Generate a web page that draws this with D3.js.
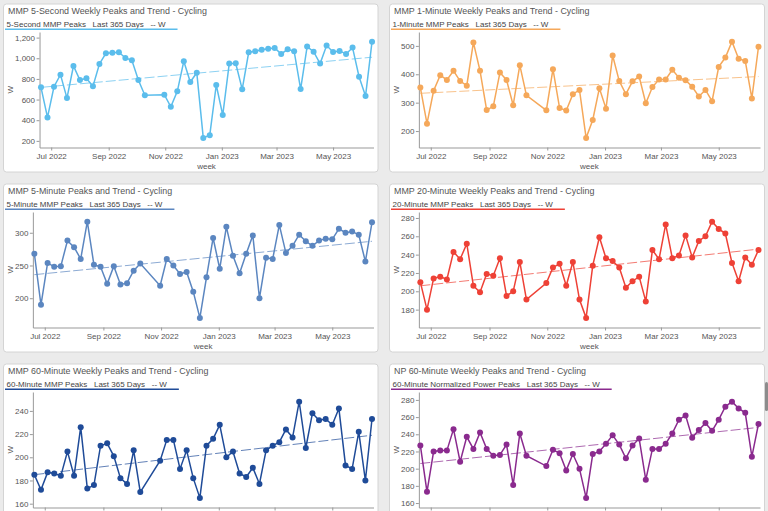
<!DOCTYPE html>
<html><head><meta charset="utf-8">
<script src="https://cdn.jsdelivr.net/npm/d3@7"></script>
<style>
html,body{margin:0;padding:0;background:#ebebeb;overflow:hidden;}
svg{display:block;font-family:"Liberation Sans",Arial,Helvetica,sans-serif;}
</style></head><body>
<svg id="chart" width="768" height="511"></svg>
<script>
// ---- data ----
const weeks = ["2022-06-20","2022-06-27","2022-07-04","2022-07-11","2022-07-18","2022-07-25","2022-08-01","2022-08-08","2022-08-15","2022-08-22","2022-08-29","2022-09-05","2022-09-12","2022-09-19","2022-09-26","2022-10-03","2022-10-10",
"2022-10-31","2022-11-07","2022-11-14","2022-11-21","2022-11-28","2022-12-05","2022-12-12","2022-12-19","2022-12-26","2023-01-02","2023-01-09","2023-01-16","2023-01-23","2023-01-30","2023-02-06","2023-02-13","2023-02-20","2023-02-27","2023-03-06","2023-03-13","2023-03-20","2023-03-27","2023-04-03","2023-04-10","2023-04-17","2023-04-24","2023-05-01","2023-05-08","2023-05-15","2023-05-22","2023-05-29","2023-06-05","2023-06-12"];

const titles = ["MMP 5-Second Weekly Peaks and Trend - Cycling","MMP 1-Minute Weekly Peaks and Trend - Cycling","MMP 5-Minute Peaks and Trend - Cycling","MMP 20-Minute Weekly Peaks and Trend - Cycling","MMP 60-Minute Weekly Peaks and Trend - Cycling","NP 60-Minute Weekly Peaks and Trend - Cycling"];
const seriesNames = ["5-Second MMP Peaks","1-Minute MMP Peaks","5-Minute MMP Peaks","20-Minute MMP Peaks","60-Minute MMP Peaks","60-Minute Normalized Power Peaks"];
const periodLabel = "Last 365 Days";
const unitLabel = "-- W";
const yLabel = "W";
const xLabel = "week";
const colors = ["#5bbdec","#f5a85a","#5b86c0","#ee4136","#1f4b98","#8a2a8e"];

const mmp5s = [718,427,724,841,614,925,789,806,728,945,1048,1054,1058,1003,980,789,641,
647,530,680,971,770,860,229,255,741,450,948,951,699,1058,1068,1083,1093,1100,1042,1087,1068,702,1113,1064,948,1123,1061,1071,1042,1103,821,634,1161];
const mmp1m = [353,226,342,397,380,412,376,360,512,412,274,287,406,380,291,432,326,
273,418,281,272,330,345,176,239,351,279,466,376,330,375,392,298,355,382,382,416,388,379,356,322,345,305,426,459,515,455,447,315,497];
const mmp5m = [268,190,254,248,249,288,278,260,317,251,248,222,249,221,223,242,253,
219,260,250,237,240,210,170,232,292,245,309,265,238,268,296,200,262,260,312,269,280,297,287,280,288,291,290,306,300,302,297,256,316];
const mmp20m = [210,180,214,216,213,243,235,252,206,199,219,217,236,195,200,232,191,
209,226,230,206,232,191,171,228,259,236,233,226,204,211,216,189,245,235,273,236,239,261,237,255,260,276,268,263,231,211,237,229,245];
const mmp60m = [185,172,187,186,184,205,184,226,173,176,210,212,201,182,177,206,170,
197,215,215,190,206,182,165,210,216,228,200,205,186,183,191,177,206,210,213,224,217,248,208,238,232,233,228,242,193,190,222,180,233];
const np60m = [227,173,220,221,221,246,208,237,223,242,223,215,216,228,181,241,215,
203,222,218,198,217,200,166,217,220,229,239,228,212,227,235,187,223,223,229,241,257,262,236,245,253,244,257,272,278,270,265,214,252];

const trendStart = [718,333,236,206,185,206];
const trendEnd = [1010,392,287,246,219,248];

const series = [mmp5s, mmp1m, mmp5m, mmp20m, mmp60m, np60m];

// ---- layout ----
const colX = [3.5, 389.5], colW = [374.5, 375];
const rowY = [4, 184, 364], panelH = 168;
const H = 511;

const svg = d3.select("#chart");
const parse = d3.timeParse("%Y-%m-%d");
const dates = weeks.map(parse);
const fmtTick = d3.timeFormat("%b %Y");

// scrollbar thumb
svg.append("rect").attr("x",765).attr("y",382).attr("width",3).attr("height",29).attr("rx",1.5).attr("fill","#8c8c8c");

function textWidth(str, size){
  const t = svg.append("text").style("font-size", size+"px").style("white-space","pre").text(str);
  const w = t.node().getComputedTextLength(); t.remove(); return w;
}

series.forEach((vals, i) => {
  const px = colX[i % 2], pw = colW[i % 2], py = rowY[Math.floor(i / 2)];
  const color = colors[i];
  const g = svg.append("g");
  g.append("rect").attr("x",px).attr("y",py).attr("width",pw).attr("height",panelH)
    .attr("rx",3).attr("fill","#fff").attr("stroke","#d4d4d4").attr("stroke-width",1);

  // headers
  g.append("text").attr("x",px+4.5).attr("y",py+10).style("font-size","8.9px").attr("fill","#555").text(titles[i]);
  const sub = seriesNames[i] + "   " + periodLabel + "   " + unitLabel;
  g.append("text").attr("x",px+3).attr("y",py+22.5).style("font-size","8px").style("white-space","pre").attr("fill","#444").text(sub);
  const sw = textWidth(sub, 8);
  g.append("line").attr("x1",px+1.5).attr("x2",px+3+sw+12).attr("y1",py+25.3).attr("y2",py+25.3)
    .attr("stroke",color).attr("stroke-width",1.4);

  // scales
  const mn = d3.min(vals), mx = d3.max(vals), r = mx - mn;
  const y0 = py + 28, y1 = y0 + 115.5;
  const y = d3.scaleLinear().domain([mn - 0.1*r, mx + 0.1*r]).range([y1, y0]);
  const ticks = y.ticks(5);
  const maxLab = d3.max(ticks, t => textWidth(d3.format(",")(t), 8));
  const x0 = px + 16 + maxLab, x1 = px + pw - 4.5;
  const pad = 38*3600*1000;
  const x = d3.scaleTime().domain([new Date(dates[0].getTime()-pad), new Date(dates[dates.length-1].getTime()+pad)]).range([x0, x1]);

  // axes (labels that fall below the window are not drawn, as in the reference)
  const showXLabels = y1 + 14 < H;
  const gx = g.append("g").attr("transform",`translate(0,${y1})`)
    .call(d3.axisBottom(x).ticks(d3.timeMonth.every(2)).tickFormat(showXLabels ? fmtTick : () => "").tickSize(3).tickSizeOuter(0).tickPadding(3));
  const gy = g.append("g").attr("transform",`translate(${x0},0)`)
    .call(d3.axisLeft(y).ticks(5).tickFormat(d3.format(",")).tickSize(3).tickSizeOuter(0).tickPadding(1.5));
  [gx, gy].forEach(a => {
    a.select(".domain").attr("stroke","#999");
    a.selectAll(".tick line").attr("stroke","#999");
    a.selectAll(".tick text").attr("fill","#555").style("font-size","8px").style("font-family",'"Liberation Sans",Arial,sans-serif');
  });
  if (!showXLabels) gx.selectAll(".tick text").remove();

  g.append("text").attr("transform",`translate(${px+9.2},${(y0+y1)/2}) rotate(-90)`).attr("text-anchor","middle")
    .style("font-size","8px").attr("fill","#555").text(yLabel);
  if (py + 164.5 < H) {
    g.append("text").attr("x",(x0+x1)/2).attr("y",py+164.5).attr("text-anchor","middle")
      .style("font-size","8px").attr("fill","#555").text(xLabel);
  }

  // trend
  const trend = [{d:dates[0], v:trendStart[i]},{d:dates[dates.length-1], v:trendEnd[i]}];
  g.append("path").datum(trend).attr("fill","none").attr("stroke",color).attr("stroke-opacity",0.7)
    .attr("stroke-width",1).attr("stroke-dasharray","10,3")
    .attr("d", d3.line().x(d=>x(d.d)).y(d=>y(d.v)));

  // series line + dots
  const pts = vals.map((v,k)=>({d:dates[k], v}));
  g.append("path").datum(pts).attr("fill","none").attr("stroke",color).attr("stroke-width",1.5)
    .attr("d", d3.line().x(d=>x(d.d)).y(d=>y(d.v)));
  g.selectAll("circle.pt").data(pts).join("circle").attr("class","pt")
    .attr("cx",d=>x(d.d)).attr("cy",d=>y(d.v)).attr("r",3).attr("fill",color);
});
</script>
</body></html>
